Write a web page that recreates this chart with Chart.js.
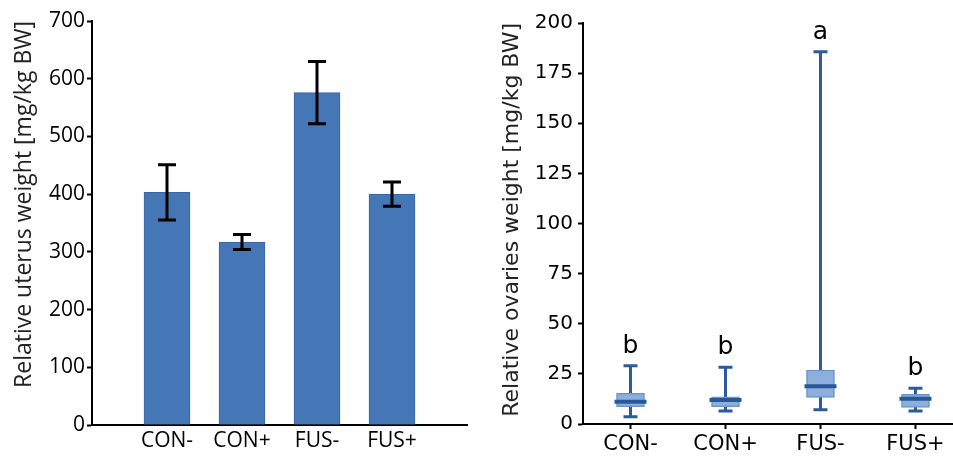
<!DOCTYPE html>
<html lang="en">
<head>
  <meta charset="UTF-8">
  <title>Relative uterus and ovaries weight</title>
  <script src="https://cdn.jsdelivr.net/npm/chart.js"></script>
  <style>
    * { box-sizing: border-box; margin: 0; padding: 0; }
    body { width: 953px; height: 456px; background: #fff; position: relative; overflow: hidden; }
    .panel { position: absolute; top: 0; height: 456px; }
    #left { left: 0; width: 480px; }
    #right { left: 480px; width: 473px; }
  </style>
</head>
<body>
  <div class="panel" id="left"><canvas id="uterus" width="480" height="456"></canvas></div>
  <div class="panel" id="right"><canvas id="ovaries" width="473" height="456"></canvas></div>
  <script>
    const groups = ['CON-', 'CON+', 'FUS-', 'FUS+'];

    // left panel: mean +/- error
    const uterusMean = [403, 317, 576, 400];
    const uterusErr = [48, 13, 54, 21];
    const uterusTicks = [0, 100, 200, 300, 400, 500, 600, 700];

    // right panel: box plots
    const ovMin = [3.6, 6.5, 7.1, 6.5];
    const ovQ1 = [8.6, 8.6, 13.3, 8.3];
    const ovMedian = [11.1, 12.0, 18.8, 12.6];
    const ovQ3 = [15.3, 13.6, 26.9, 14.8];
    const ovMax = [29.1, 28.3, 185.7, 17.8];
    const ovLetters = ['b', 'b', 'a', 'b'];
    const ovTicks = [0, 25, 50, 75, 100, 125, 150, 175, 200];

    const errorBars = {
      id: 'errorBars',
      afterDatasetsDraw(chart) {
        const { ctx, scales: { x, y } } = chart;
        ctx.save();
        ctx.strokeStyle = '#000';
        ctx.lineWidth = 3;
        uterusMean.forEach((m, i) => {
          const px = x.getPixelForValue(i + 1);
          const top = y.getPixelForValue(m + uterusErr[i]);
          const bot = y.getPixelForValue(m - uterusErr[i]);
          ctx.beginPath();
          ctx.moveTo(px, top); ctx.lineTo(px, bot);
          ctx.moveTo(px - 9, top); ctx.lineTo(px + 9, top);
          ctx.moveTo(px - 9, bot); ctx.lineTo(px + 9, bot);
          ctx.stroke();
        });
        ctx.restore();
      }
    };

    const whiskers = {
      id: 'whiskers',
      beforeDatasetsDraw(chart) {
        const { ctx, scales: { x, y } } = chart;
        ctx.save();
        ctx.strokeStyle = '#2c5b9c';
        ctx.lineWidth = 3;
        groups.forEach((g, i) => {
          const px = x.getPixelForValue(i + 1);
          const top = y.getPixelForValue(ovMax[i]);
          const bot = y.getPixelForValue(ovMin[i]);
          ctx.beginPath();
          ctx.moveTo(px, top); ctx.lineTo(px, bot);
          ctx.moveTo(px - 7, top); ctx.lineTo(px + 7, top);
          ctx.moveTo(px - 7, bot); ctx.lineTo(px + 7, bot);
          ctx.stroke();
        });
        ctx.restore();
      },
      afterDatasetsDraw(chart) {
        const { ctx, scales: { x, y } } = chart;
        ctx.save();
        ctx.strokeStyle = '#2a5798';
        ctx.lineWidth = 4;
        ctx.fillStyle = '#000';
        ctx.font = '25px "DejaVu Sans"';
        ctx.textAlign = 'center';
        ctx.textBaseline = 'alphabetic';
        groups.forEach((g, i) => {
          const px = x.getPixelForValue(i + 1);
          const pm = y.getPixelForValue(ovMedian[i]);
          ctx.beginPath();
          ctx.moveTo(px - 16, pm); ctx.lineTo(px + 16, pm);
          ctx.stroke();
          ctx.fillText(ovLetters[i], px, y.getPixelForValue(ovMax[i]) - 13);
        });
        ctx.restore();
      }
    };

    function axisX(min, max, font, tickLen, tickColor, pad, h) {
      return {
        type: 'linear', min: min, max: max, offset: false,
        afterBuildTicks: s => { s.ticks = groups.map((g, i) => ({ value: i + 1 })); },
        afterFit: s => { s.height = h; },
        border: { color: '#000', width: 2 },
        grid: { offset: false, drawOnChartArea: false, tickLength: tickLen, tickColor: tickColor, tickWidth: 2 },
        ticks: { color: '#000', font: font, padding: pad, autoSkip: false, maxRotation: 0,
                 callback: v => groups[v - 1] }
      };
    }

    function axisY(max, ticks, font, title, titleFont, titlePad, w, pad) {
      return {
        min: 0, max: max,
        afterBuildTicks: s => { s.ticks = ticks.map(v => ({ value: v })); },
        afterFit: s => { s.width = w; },
        border: { color: '#000', width: 2 },
        grid: { drawOnChartArea: false, tickLength: 5, tickColor: '#000', tickWidth: 2 },
        ticks: { color: '#000', font: font, padding: pad },
        title: { display: true, text: title, align: 'end', color: '#222', font: titleFont,
                 padding: { top: titlePad, bottom: 0 } }
      };
    }

    new Chart(document.getElementById('uterus'), {
      type: 'bar',
      data: {
        datasets: [{
          data: uterusMean.map((v, i) => ({ x: i + 1, y: v })),
          backgroundColor: '#4576b6',
          borderColor: '#3a66a6',
          borderWidth: 1,
          barThickness: 46
        }]
      },
      options: {
        responsive: false,
        animation: false,
        devicePixelRatio: 1,
        layout: { padding: { top: 21, right: 13, bottom: 0, left: 0 } },
        plugins: { legend: { display: false }, tooltip: { enabled: false } },
        scales: {
          x: axisX(0, 5, { family: 'Open Sans', size: 21 }, 2, 'transparent', 1, 31),
          y: axisY(700, uterusTicks, { family: 'Open Sans', size: 21 },
                   'Relative uterus weight [mg/kg BW]', { family: 'Open Sans', size: 23 }, 11, 92, 2)
        }
      },
      plugins: [errorBars]
    });

    new Chart(document.getElementById('ovaries'), {
      type: 'bar',
      data: {
        datasets: [{
          data: groups.map((g, i) => ({ x: i + 1, y: [ovQ1[i], ovQ3[i]] })),
          backgroundColor: '#8cafdc',
          borderColor: '#6b95cb',
          borderWidth: 1.5,
          borderSkipped: false,
          barThickness: 28
        }]
      },
      options: {
        responsive: false,
        animation: false,
        devicePixelRatio: 1,
        layout: { padding: { top: 23, right: 0, bottom: 0, left: 0 } },
        plugins: { legend: { display: false }, tooltip: { enabled: false } },
        scales: {
          x: axisX(0.5, 4.395, { family: 'DejaVu Sans', size: 21 }, 5, '#000', 3, 32),
          y: axisY(200, ovTicks, { family: 'DejaVu Sans', size: 20 },
                   'Relative ovaries weight [mg/kg BW]', { family: 'DejaVu Sans', size: 22 }, 19, 103, 5)
        }
      },
      plugins: [whiskers]
    });
  </script>
</body>
</html>
